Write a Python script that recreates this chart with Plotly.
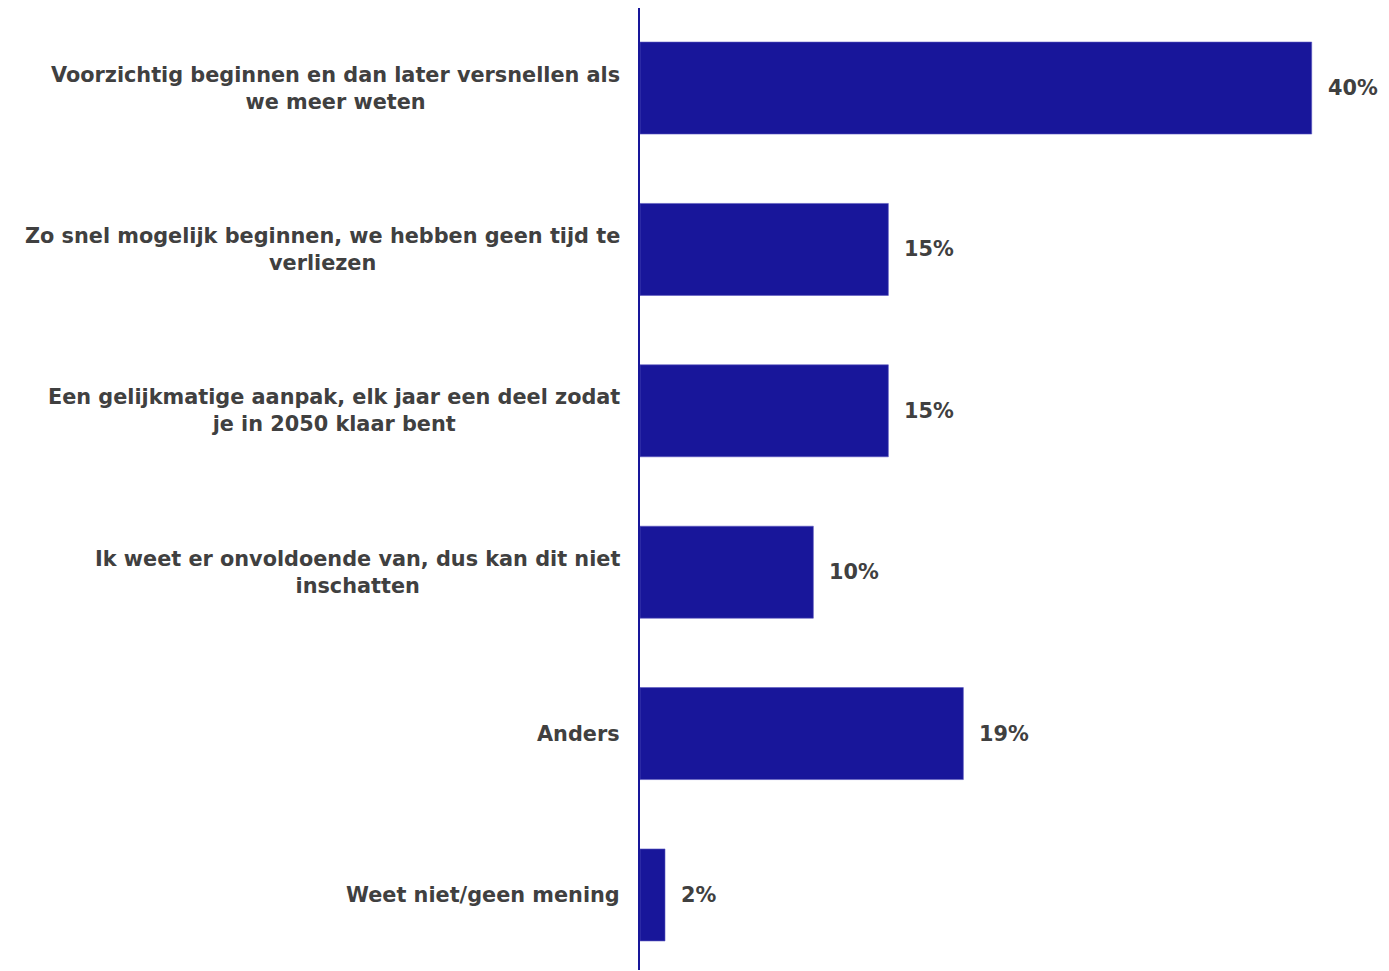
import plotly.graph_objects as go

categories = [
    "Voorzichtig beginnen en dan later versnellen als<br>we meer weten",
    "Zo snel mogelijk beginnen, we hebben geen tijd te<br>verliezen",
    "Een gelijkmatige aanpak, elk jaar een deel zodat<br>je in 2050 klaar bent",
    "Ik weet er onvoldoende van, dus kan dit niet<br>inschatten",
    "Anders",
    "Weet niet/geen mening",
]
values = [40.3, 14.9, 14.9, 10.4, 19.4, 1.5]
value_labels = ["40%", "15%", "15%", "10%", "19%", "2%"]

BAR = "#18169A"
TXT = "#404040"
FONT = "DejaVu Sans"
FS = 20.8

fig = go.Figure()
fig.add_trace(go.Bar(
    x=values, y=list(range(len(categories))), orientation="h",
    marker=dict(color=BAR, line=dict(color="#5a58c0", width=0.6)),
    width=0.57, hoverinfo="skip",
))

anns = []
for i, (c, v, t) in enumerate(zip(categories, values, value_labels)):
    anns.append(dict(x=0, xref="paper", y=i, yref="y", text=c, showarrow=False,
                     xanchor="right", yanchor="middle", xshift=-18, align="center",
                     font=dict(family=FONT, size=FS, color=TXT, weight="bold")))
    anns.append(dict(x=v, xref="x", y=i, yref="y", text=t, showarrow=False,
                     xanchor="left", yanchor="middle", xshift=14, align="left",
                     font=dict(family=FONT, size=FS, color=TXT, weight="bold")))

# page has an 8px body margin; compensate so the plot lands where the reference has it
fig.update_layout(
    width=1381, height=963,
    margin=dict(l=632, r=0, t=0, b=1),
    paper_bgcolor="white", plot_bgcolor="white",
    showlegend=False,
    annotations=anns,
    xaxis=dict(range=[0, 40.3 * 749 / 671.7], visible=False, fixedrange=True),
    yaxis=dict(range=[5.465, -0.496], showticklabels=False, showgrid=False,
               zeroline=False, showline=True, linecolor=BAR, linewidth=2,
               ticks="", fixedrange=True),
)

fig.write_html("out.html", config={"displayModeBar": False})
